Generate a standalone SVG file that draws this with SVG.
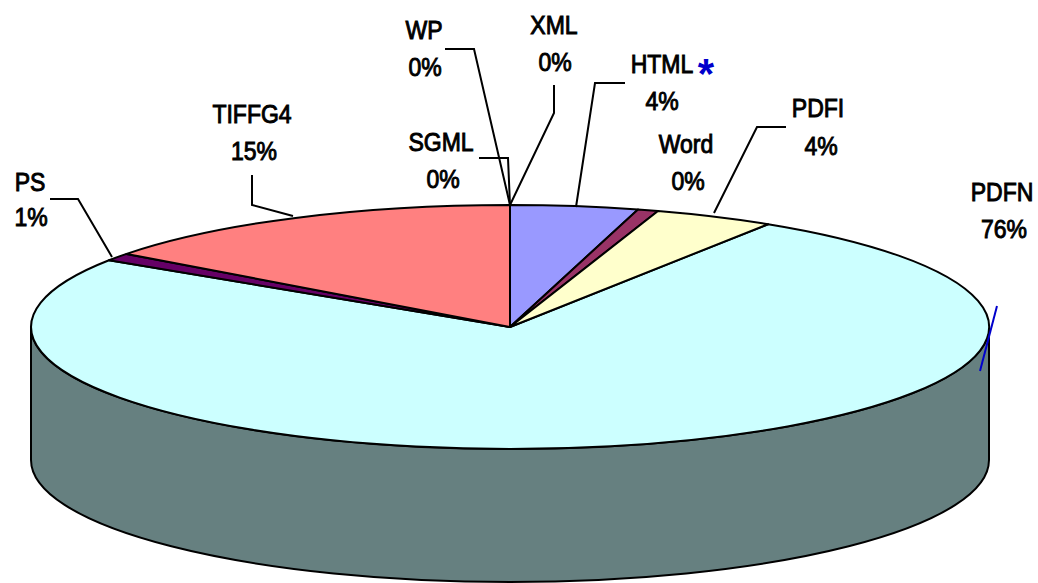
<svg xmlns="http://www.w3.org/2000/svg" width="1038" height="583" viewBox="0 0 1038 583">
<style>
.lbl{font-family:"Liberation Sans",Arial,sans-serif;font-size:23px;fill:#000;stroke:#000;stroke-width:0.85;text-anchor:middle}
.sl{stroke:#000;stroke-width:2;stroke-linejoin:round}
.ld{fill:none;stroke:#000;stroke-width:2}
</style>
<rect width="1038" height="583" fill="#fff"/>
<g id="pie-side">
<path class="sl" fill="#668080" d="M31,327 L31,460 A479,122 0 0 0 989,460 L989,327 A479,122 0 0 1 31,327 Z"/>
</g>
<g id="slice-pdfn"><path class="sl" fill="#CCFFFF" d="M510,327 L768.1,224.2 A479,122 0 1 1 109,260.3 Z"/></g>
<g id="slice-ps"><path class="sl" fill="#660066" d="M510,327 L109,260.3 A479,122 0 0 1 126.5,253.9 Z"/></g>
<g id="slice-tiffg4"><path class="sl" fill="#FF8080" d="M510,327 L126.5,253.9 A479,122 0 0 1 510,205 Z"/></g>
<g id="slice-html"><path class="sl" fill="#9999FF" d="M510,327 L510,205 A479,122 0 0 1 638,209.4 Z"/></g>
<g id="slice-word"><path class="sl" fill="#993366" d="M510,327 L638,209.4 A479,122 0 0 1 658,211 Z"/></g>
<g id="slice-pdfi"><path class="sl" fill="#FFFFCC" d="M510,327 L658,211 A479,122 0 0 1 768.1,224.2 Z"/></g>
<g id="connectors">
<polyline class="ld" points="445,49 474,49 510,205"/>
<polyline class="ld" points="479,158 508,158 510,205"/>
<polyline class="ld" points="554,85 554,113 510,205"/>
<polyline class="ld" points="625,83 595,83 576,207"/>
<polyline class="ld" points="786,127 757,127 714,213"/>
<polyline class="ld" points="252,175 252,205 293,216"/>
<polyline class="ld" points="50,199 78,199 112,257"/>
<line x1="997" y1="306" x2="980" y2="371" stroke="#0000CC" stroke-width="2"/>
</g>
<g id="label-wp"><text class="lbl" transform="translate(424 39) scale(1 1.16)"><tspan x="0" y="0">WP</tspan><tspan x="1" y="31.9">0%</tspan></text></g>
<g id="label-xml"><text class="lbl" transform="translate(554 34) scale(1 1.16)"><tspan x="0" y="0">XML</tspan><tspan x="1" y="31.9">0%</tspan></text></g>
<g id="label-html"><text class="lbl" transform="translate(662 73) scale(1 1.16)"><tspan x="0" y="0">HTML</tspan><tspan x="0" y="31.9">4%</tspan></text>
<text x="706" y="88" font-family="Liberation Sans,Arial,sans-serif" font-size="42" font-weight="bold" fill="#0000CC" text-anchor="middle">*</text></g>
<g id="label-sgml"><text class="lbl" transform="translate(441 151) scale(1 1.16)"><tspan x="0" y="0">SGML</tspan><tspan x="2" y="31.9">0%</tspan></text></g>
<g id="label-word"><text class="lbl" transform="translate(686 153) scale(1 1.16)"><tspan x="0" y="0">Word</tspan><tspan x="2" y="31.9">0%</tspan></text></g>
<g id="label-pdfi"><text class="lbl" transform="translate(818 117) scale(1 1.16)"><tspan x="0" y="0">PDFI</tspan><tspan x="3" y="32.8">4%</tspan></text></g>
<g id="label-tiffg4"><text class="lbl" transform="translate(252 123) scale(1 1.16)"><tspan x="0" y="0">TIFFG4</tspan><tspan x="2" y="31.9">15%</tspan></text></g>
<g id="label-ps"><text class="lbl" transform="translate(30 191) scale(1 1.16)"><tspan x="0" y="0">PS</tspan><tspan x="1" y="30.6">1%</tspan></text></g>
<g id="label-pdfn"><text class="lbl" transform="translate(1002 201) scale(1 1.16)"><tspan x="0" y="0">PDFN</tspan><tspan x="2" y="31.9">76%</tspan></text></g>
</svg>
